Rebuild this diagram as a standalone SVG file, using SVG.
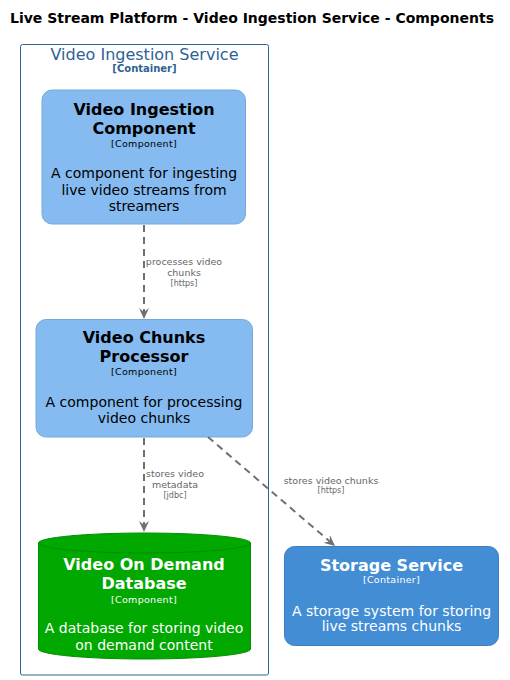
<svg xmlns="http://www.w3.org/2000/svg" width="510" height="680" viewBox="0 0 510 680">
<style>
text{font-family:"DejaVu Sans",Verdana,sans-serif;text-anchor:middle}
.title{font-size:14px;font-weight:bold;text-anchor:start;fill:#000}
.bt{font-size:16px;fill:#2E6295}
.bs{font-size:10px;font-weight:bold;fill:#2E6295}
.nm{font-size:16px;font-weight:bold}
.st{font-size:9.5px;letter-spacing:0.3px}
.ds{font-size:14px}
.lb{font-size:9.5px;fill:#666}
.lt{font-size:8px;fill:#666}
.dark{fill:#000}
.light{fill:#fff}
.conn{stroke:#707070;stroke-width:2;fill:none;stroke-dasharray:7,5}
</style>
<defs>
<marker id="ah" viewBox="0 0 12 10" refX="11" refY="5" markerWidth="12" markerHeight="10" markerUnits="userSpaceOnUse" orient="auto">
<path d="M0,0 L11,5 L0,10 L4,5 Z" fill="#707070"/>
</marker>
</defs>
<rect width="510" height="680" fill="#fff"/>
<text class="title" x="10" y="23">Live Stream Platform - Video Ingestion Service - Components</text>
<g id="boundary">
<rect x="20.5" y="44.5" width="248" height="630.5" rx="2" fill="none" stroke="#2E6295" stroke-width="1"/>
<text class="bt" x="144.5" y="60">Video Ingestion Service</text>
<text class="bs" x="144.5" y="72">[Container]</text>
</g>
<g id="video-ingestion-component">
<rect x="42" y="90" width="203.5" height="134" rx="10" fill="#85BBF0" stroke="#78A8D8"/>
<text class="nm dark" x="144" y="115">Video Ingestion</text>
<text class="nm dark" x="144" y="134">Component</text>
<text class="st dark" x="144" y="147">[Component]</text>
<text class="ds dark" x="144" y="178">A component for ingesting</text>
<text class="ds dark" x="144" y="195">live video streams from</text>
<text class="ds dark" x="144" y="211">streamers</text>
</g>
<g id="video-chunks-processor">
<rect x="36" y="319.5" width="216.5" height="117.5" rx="10" fill="#85BBF0" stroke="#78A8D8"/>
<text class="nm dark" x="144" y="343">Video Chunks</text>
<text class="nm dark" x="144" y="362">Processor</text>
<text class="st dark" x="144" y="375">[Component]</text>
<text class="ds dark" x="144" y="407">A component for processing</text>
<text class="ds dark" x="144" y="423">video chunks</text>
</g>
<g id="video-on-demand-database">
<path d="M38.5,543 A106,10 0 0 1 250.5,543 L250.5,649 A106,10 0 0 1 38.5,649 Z" fill="#00A800" stroke="#008F00"/>
<path d="M38.5,543 A106,10 0 0 0 250.5,543" fill="none" stroke="#008F00"/>
<text class="nm light" x="144" y="570">Video On Demand</text>
<text class="nm light" x="144" y="589">Database</text>
<text class="st light" x="144" y="603">[Component]</text>
<text class="ds light" x="144" y="633">A database for storing video</text>
<text class="ds light" x="144" y="650">on demand content</text>
</g>
<g id="storage-service">
<rect x="284.5" y="546.5" width="214" height="99" rx="10" fill="#438DD5" stroke="#3C7FC0"/>
<text class="nm light" x="391.5" y="571">Storage Service</text>
<text class="st light" x="391.5" y="583">[Container]</text>
<text class="ds light" x="391.5" y="616">A storage system for storing</text>
<text class="ds light" x="391.5" y="631">live streams chunks</text>
</g>
<g id="connectors">
<path class="conn" d="M144,225 L144,319" marker-end="url(#ah)"/>
<text class="lb" x="184" y="265">processes video</text>
<text class="lb" x="184" y="276">chunks</text>
<text class="lt" x="184" y="286">[https]</text>
<path class="conn" d="M144,438 L144,532" marker-end="url(#ah)"/>
<text class="lb" x="175" y="477">stores video</text>
<text class="lb" x="175" y="488">metadata</text>
<text class="lt" x="175" y="498">[jdbc]</text>
<path class="conn" d="M208,437 L335,546" marker-end="url(#ah)"/>
<text class="lb" x="331" y="484">stores video chunks</text>
<text class="lt" x="331" y="493">[https]</text>
</g>
</svg>
